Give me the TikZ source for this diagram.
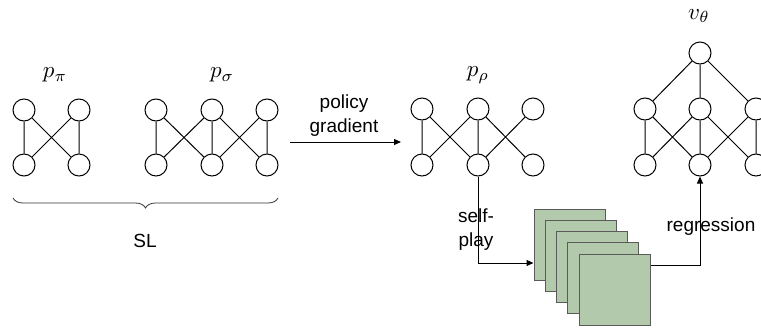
\documentclass[tikz,border=0pt]{standalone}
\usepackage{graphicx}
\usepackage{fontspec}
\setmainfont{Liberation Sans}
\usetikzlibrary{decorations.pathreplacing,arrows.meta}
\definecolor{boardfill}{HTML}{B2C9AB}
\definecolor{boardline}{HTML}{5A5A5A}
\newcommand{\biglabel}[1]{\scalebox{2.3}{$#1$}}
\begin{document}
\begin{tikzpicture}[x=1pt,y=-1pt,
  neuron/.style={circle,draw=black,line width=1pt,minimum size=22pt,inner sep=0pt,fill=white},
  link/.style={draw=black,line width=1pt},
  flow/.style={draw=black,line width=1pt,-{Triangle[length=7pt,width=6pt]}},
  board/.style={draw=boardline,line width=1pt,fill=boardfill,minimum size=71pt,inner sep=0pt},
  caption/.style={font=\fontsize{19}{24}\selectfont,align=center,inner sep=0pt},
  mathlabel/.style={inner sep=0pt}]
\useasboundingbox (0,0) rectangle (761,327);
\begin{scope}
\clip (0,0) rectangle (761,327);

% --- p_pi: two-by-two network
\node[mathlabel] (lpi) at (55,75) {\biglabel{p_\pi}};
\node[neuron] (a1) at (24,110) {};
\node[neuron] (a2) at (79,110) {};
\node[neuron] (a3) at (24,165) {};
\node[neuron] (a4) at (79,165) {};
\draw[link] (a1) -- (a3) (a2) -- (a4) (a1) -- (a4) (a2) -- (a3);

% --- p_sigma: three-by-two network
\node[mathlabel] (lsigma) at (222,75) {\biglabel{p_\sigma}};
\node[neuron] (b1) at (156,110) {};
\node[neuron] (b2) at (212,110) {};
\node[neuron] (b3) at (267,110) {};
\node[neuron] (b4) at (156,165) {};
\node[neuron] (b5) at (212,165) {};
\node[neuron] (b6) at (267,165) {};
\draw[link] (b1) -- (b4) (b2) -- (b5) (b3) -- (b6)
  (b1) -- (b5) (b2) -- (b4) (b2) -- (b6) (b3) -- (b5);

% --- brace under the supervised-learning networks
\coordinate (brL) at (13,198);
\coordinate (brR) at (278,198);
\draw[black!80,line width=0.8pt,decoration={brace,mirror,amplitude=10pt},decorate] (brL) -- (brR);
\node[caption] (sl) at (145,241) {SL};

% --- policy gradient step
\coordinate (pgS) at (290,142);
\coordinate (pgE) at (401,142);
\draw[flow] (pgS) -- (pgE);
\node[caption] (pg) at (344,116) {policy\\gradient};

% --- p_rho network
\node[mathlabel] (lrho) at (478,75) {\biglabel{p_\rho}};
\node[neuron] (c1) at (422,109) {};
\node[neuron] (c2) at (478,109) {};
\node[neuron] (c3) at (533,109) {};
\node[neuron] (c4) at (422,165) {};
\node[neuron] (c5) at (478,165) {};
\node[neuron] (c6) at (533,165) {};
\draw[link] (c1) -- (c4) (c2) -- (c5)
  (c1) -- (c5) (c2) -- (c4) (c2) -- (c6) (c3) -- (c5);

% --- v_theta network
\node[mathlabel] (ltheta) at (699,16) {\biglabel{v_\theta}};
\node[neuron] (d0) at (700,53) {};
\node[neuron] (d1) at (645,109) {};
\node[neuron] (d2) at (700,109) {};
\node[neuron] (d3) at (756,109) {};
\node[neuron] (d4) at (645,165) {};
\node[neuron] (d5) at (700,165) {};
\node[neuron] (d6) at (756,165) {};
\draw[link] (d0) -- (d1) (d0) -- (d2) (d0) -- (d3)
  (d1) -- (d4) (d2) -- (d5) (d3) -- (d6)
  (d1) -- (d5) (d2) -- (d4) (d2) -- (d6) (d3) -- (d5);

% --- stack of self-play game boards
\node[board] (g1) at (569.5,244.5) {};
\node[board] (g2) at (580.8,255.8) {};
\node[board] (g3) at (592.1,267.1) {};
\node[board] (g4) at (603.4,278.4) {};
\node[board] (g5) at (614.7,289.7) {};

% --- self-play and regression connectors
\draw[flow] (c5.south) |- (g1.west |- 0,263);
\node[caption] (sp) at (476,230) {self-\\play};
\draw[flow] (g5.east |- 0,265) -| (d5.south);
\node[caption] (rg) at (711,227) {regression};
\end{scope}
\end{tikzpicture}
\end{document}
